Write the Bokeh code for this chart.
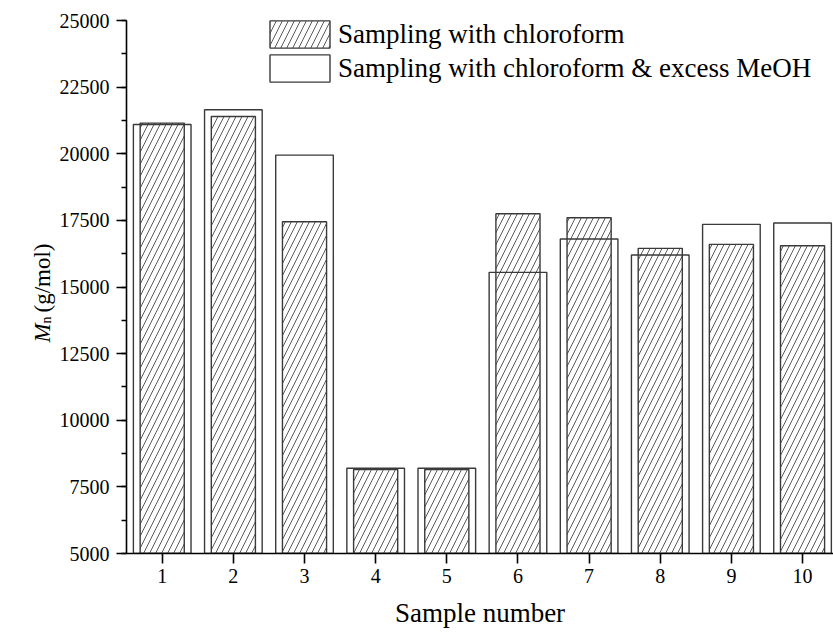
import math
from bokeh.plotting import figure
from bokeh.layouts import row
from bokeh.models import (Range1d, FixedTicker, SingleIntervalTicker, Legend, LegendItem, Label)
from bokeh.embed import file_html
from bokeh.resources import INLINE

# Number-average molar mass per sample, for the two sampling procedures
samples = [1, 2, 3, 4, 5, 6, 7, 8, 9, 10]
mn_chloroform = [21150, 21400, 17450, 8150, 8150, 17750, 17600, 16450, 16600, 16550]
mn_chloroform_meoh = [21100, 21650, 19950, 8200, 8200, 15550, 16800, 16200, 17350, 17400]
y_ticks = [5000, 7500, 10000, 12500, 15000, 17500, 20000, 22500, 25000]
legend_labels = ["Sampling with chloroform", "Sampling with chloroform & excess MeOH"]

FONT = "Liberation Serif"
BASE = 5000
TITLE_W = 56          # strip holding the rotated y-axis title
W, H = 833, 634

p = figure(width=W - TITLE_W, height=H, output_backend="svg", toolbar_location=None,
           x_range=Range1d(0.498, 10.435), y_range=Range1d(y_ticks[0], y_ticks[-1]),
           min_border_left=126 - TITLE_W, min_border_right=0,
           min_border_top=20, min_border_bottom=81)
p.outline_line_color = None
p.xgrid.visible = False
p.ygrid.visible = False

hatched = p.vbar(x=samples, top=mn_chloroform, bottom=BASE, width=0.62,
                 fill_color="white", line_color="#3a3a3a", line_width=1.4,
                 hatch_pattern="/", hatch_color="#5a5a5a", hatch_weight=1.0, hatch_scale=12)
open_bars = p.vbar(x=samples, top=mn_chloroform_meoh, bottom=BASE, width=0.81,
                   fill_color=None, line_color="#3a3a3a", line_width=1.4)

# axes
p.axis.axis_line_color = "black"
p.axis.axis_line_width = 1.6
p.axis.major_tick_line_color = "black"
p.axis.major_tick_line_width = 1.6
p.axis.major_tick_in = 0
p.axis.major_tick_out = 10
p.axis.major_label_text_font = FONT
p.axis.major_label_text_font_size = "20px"
p.axis.major_label_text_color = "black"

p.xaxis.ticker = FixedTicker(ticks=samples, minor_ticks=[])
p.xaxis.major_label_standoff = 5
p.xaxis.axis_label = "Sample number"
p.xaxis.axis_label_text_font = FONT
p.xaxis.axis_label_text_font_size = "27px"
p.xaxis.axis_label_text_font_style = "normal"
p.xaxis.axis_label_text_color = "black"
p.xaxis.axis_label_standoff = 12

p.yaxis.ticker = SingleIntervalTicker(interval=2500, num_minor_ticks=2)
p.yaxis.bounds = (y_ticks[0], y_ticks[-1])
p.yaxis.minor_tick_line_color = "black"
p.yaxis.minor_tick_line_width = 1.4
p.yaxis.minor_tick_in = 0
p.yaxis.minor_tick_out = 5
p.yaxis.major_label_standoff = 7

legend = Legend(items=[LegendItem(label=legend_labels[0], renderers=[hatched]),
                       LegendItem(label=legend_labels[1], renderers=[open_bars])],
                location=(136, 468), orientation="vertical",
                glyph_width=75, glyph_height=34, label_height=34, spacing=0,
                label_standoff=1, padding=0, margin=0,
                border_line_color=None, background_fill_alpha=0,
                label_text_font=FONT, label_text_font_size="27px", label_text_color="black")
p.add_layout(legend, "center")

# y-axis title strip: italic M with subscript n, then the unit
side = figure(width=TITLE_W, height=H, output_backend="svg", toolbar_location=None,
              x_range=Range1d(0, 1), y_range=Range1d(0, 1), min_border=0)
side.axis.visible = False
side.grid.visible = False
side.outline_line_color = None
lab = dict(x_units="screen", y_units="screen", angle=math.pi / 2,
           text_align="left", text_baseline="alphabetic", text_font=FONT, text_color="black")
side.add_layout(Label(x=42, y=211, text="M", text_font_size="23px",
                      text_font_style="italic", **lab))
side.add_layout(Label(x=46, y=230, text="n", text_font_size="14px", **lab))
side.add_layout(Label(x=42, y=241, text="(g/mol)", text_font_size="23px", **lab))

open("out.html", "w").write(file_html(row(side, p, spacing=0), INLINE))
